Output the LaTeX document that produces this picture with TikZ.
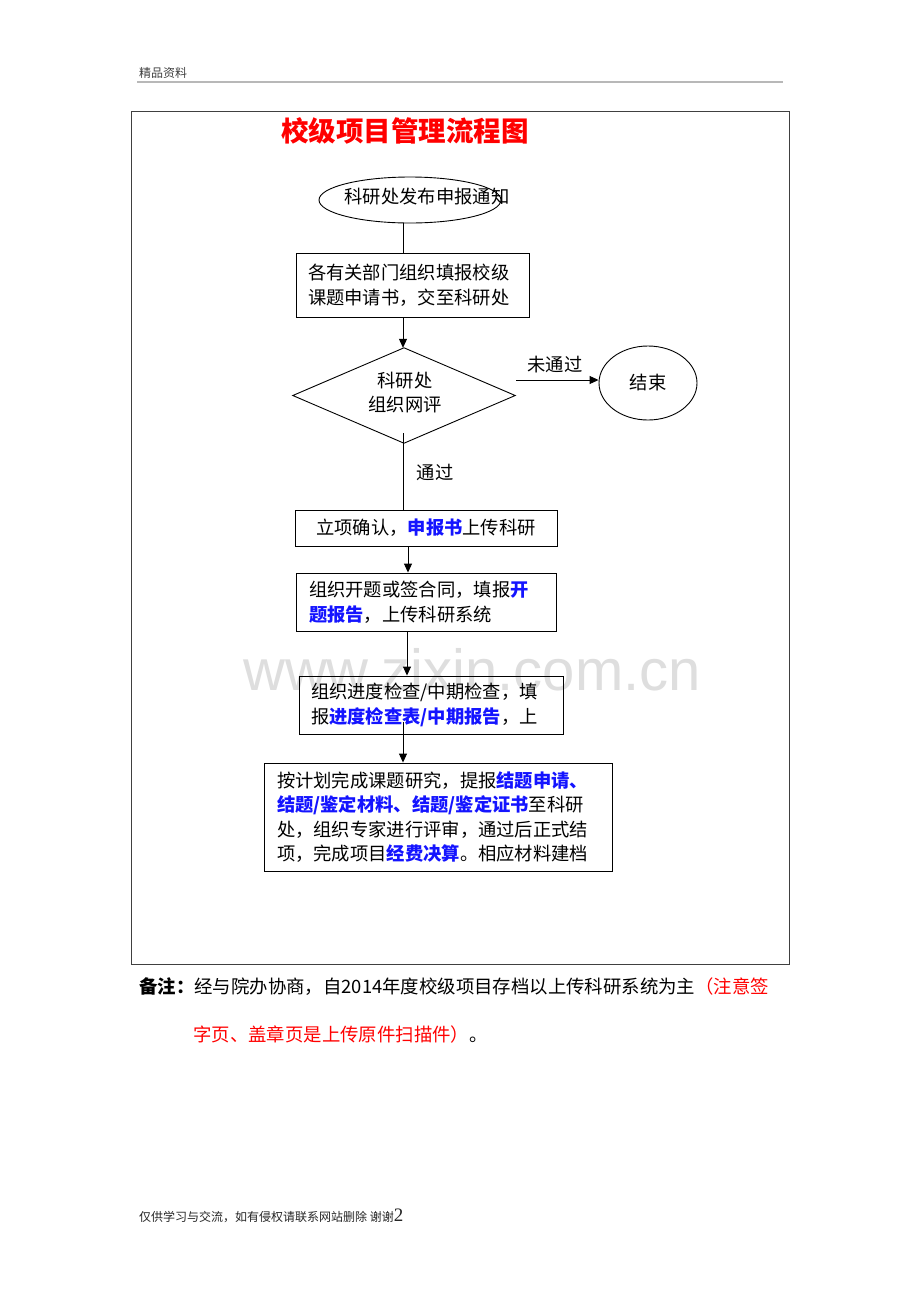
\documentclass[tikz,border=0pt]{standalone}
\usepackage{fontspec}
\setmainfont{Liberation Serif}
\newfontfamily\cjk{Noto Sans CJK SC}
\newfontfamily\wmfont{Liberation Sans}
\usetikzlibrary{arrows.meta,calc,shapes.geometric}
\definecolor{hlblue}{RGB}{20,20,255}
\definecolor{redtxt}{RGB}{255,0,0}
\newcommand\hlb[1]{{\bfseries\color{hlblue}#1}}
\tikzset{
  body/.style={font=\cjk\fontsize{18.3}{24.5}\selectfont, inner sep=0pt, align=left},
  boxn/.style={draw, line width=0.9pt, inner sep=0pt, font=\cjk\fontsize{18.3}{24.5}\selectfont, align=left},
  arr/.style={line width=1pt, -{Triangle[length=9pt,width=8pt]}},
  ln/.style={line width=1pt}
}
\begin{document}
\begin{tikzpicture}[x=1pt,y=-1pt]
\useasboundingbox (0,0) rectangle (920,1302);
\fill[white] (0,0) rectangle (920,1302);
% header
\node[anchor=west, font=\cjk\fontsize{12}{14}\selectfont, text=black!75, inner sep=0] (hdr) at (139,73) {精品资料};
\coordinate (hl1) at (137,82);
\coordinate (hl2) at (783,82);
\draw[line width=1.6pt, black!28] (hl1) -- (hl2);
% watermark
\node[font=\wmfont\fontsize{58}{60}\selectfont, text=black!13, inner sep=0] (wm) at (472,670) {www.zixin.com.cn};
% frame
\coordinate (f1) at (131,111);
\coordinate (f2) at (789,964);
\draw[line width=0.8pt, black!75] (f1) rectangle (f2);
% title
\node[font=\cjk\bfseries\fontsize{27.5}{30}\selectfont, text=redtxt, inner sep=0] (title) at (405,131) {校级项目管理流程图};
% start ellipse
\node[draw, ellipse, line width=0.9pt, minimum width=182pt, minimum height=46pt, inner sep=0] (start) at (410,200) {};
\node[body] (starttxt) at (427,197) {科研处发布申报通知};
\coordinate (x403) at (403,0);
% box1
\node[boxn, minimum width=233pt, minimum height=64pt, text width=209pt] (b1) at (412.5,285) {各有关部门组织填报校级\\课题申请书，交至科研处};
% diamond
\node[minimum width=222pt, minimum height=95pt, inner sep=0] (dm) at (404,395.5) {};
\draw[line width=0.9pt] (dm.north) -- (dm.east) -- (dm.south) -- (dm.west) -- cycle;
\node[body, align=center] (dmtxt) at (405,392.5) {科研处\\组织网评};
% end circle
\node[draw, ellipse, line width=0.9pt, minimum width=98pt, minimum height=74pt, inner sep=0, font=\cjk\fontsize{18.3}{24.5}\selectfont] (end) at (648,383) {结束};
% box2
\node[boxn, minimum width=262pt, minimum height=36pt] (b2) at (426,528) {立项确认，\hlb{申报书}上传科研};
% box3
\node[boxn, minimum width=260pt, minimum height=58pt, text width=234pt] (b3) at (426,602) {组织开题或签合同，填报\hlb{开}\\\hlb{题报告}，上传科研系统};
% box4
\node[boxn, minimum width=264pt, minimum height=58pt, text width=240pt] (b4) at (431,705) {组织进度检查/中期检查，填\\报\hlb{进度检查表/中期报告}，上};
% box5
\node[boxn, minimum width=348pt, minimum height=108pt, text width=322pt] (b5) at (438,817) {按计划完成课题研究，提报\hlb{结题申请、}\\\hlb{结题/鉴定材料、结题/鉴定证书}至科研\\处，组织专家进行评审，通过后正式结\\项，完成项目\hlb{经费决算}。相应材料建档};
% connectors
\draw[ln] (start.south -| x403) -- (b1.north -| x403);
\draw[arr] (b1.south -| x403) -- (dm.north -| x403);
\coordinate (ne1) at (516,380);
\draw[arr] (ne1) -- (end.west |- ne1);
\node[body] (nolbl) at (555,365) {未通过};
\coordinate (dmb) at (403,433);
\draw[ln] (dmb) -- (dmb |- b2.north);
\node[body] (yeslbl) at (435,472) {通过};
\coordinate (x408) at (408,0);
\coordinate (x407) at (407,0);
\draw[arr] (b2.south -| x408) -- (b3.north -| x408);
\draw[arr] (b3.south -| x407) -- (b4.north -| x407);
\coordinate (b4s) at (403,722);
\draw[arr] (b4s) -- (b4s |- b5.north);
% note
\node[anchor=west, font=\cjk\fontsize{18.4}{24}\selectfont, inner sep=0] (note1) at (139,987) {{\bfseries 备注：}经与院办协商，自2014年度校级项目存档以上传科研系统为主{\color{redtxt}（注意签}};
\node[anchor=west, font=\cjk\fontsize{18.4}{24}\selectfont, inner sep=0] (note2) at (193,1034) {{\color{redtxt}字页、盖章页是上传原件扫描件）}。};
% footer
\node[anchor=west, font=\cjk\fontsize{12}{14}\selectfont, text=black!85, inner sep=0] (ftr) at (139,1216) {仅供学习与交流，如有侵权请联系网站删除 谢谢{\rmfamily\fontsize{19}{20}\selectfont 2}};
\end{tikzpicture}
\end{document}
